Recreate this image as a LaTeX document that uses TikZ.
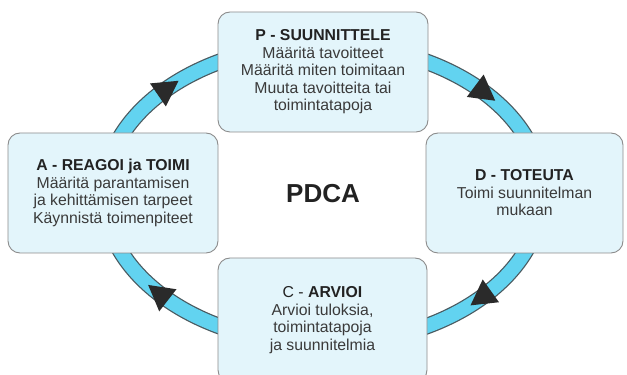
\documentclass[tikz,border=0pt]{standalone}
\usepackage{fontspec}
\setmainfont{Liberation Sans}
\usepackage{tikz}
\usepackage{color}
\usetikzlibrary{decorations.markings}

\definecolor{boxfill}{HTML}{E3F5FB}
\definecolor{boxline}{HTML}{8C8C8C}
\definecolor{ringblue}{HTML}{62D3F0}
\definecolor{ringline}{HTML}{4A5A60}
\definecolor{txt}{HTML}{3A3A3A}
\definecolor{ttl}{HTML}{222222}
\definecolor{tipfill}{HTML}{2A2A2A}

\newcommand{\ringtip}{\fill[tipfill] (13,0) -- (-12,14) -- (-12,-14) -- cycle;}

\begin{document}
\begin{tikzpicture}[x=1pt,y=1pt,
	phase/.style={draw=boxline,fill=boxfill,line width=0.9pt,rounded corners=12pt,
		align=center,inner sep=0pt,text=txt,font=\fontsize{15.8}{17.5}\selectfont},
	ringtips/.style={decorate,decoration={markings,
		mark=at position 0.107 with {\ringtip},
		mark=at position 0.40 with {\ringtip},
		mark=at position 0.61 with {\ringtip},
		mark=at position 0.897 with {\ringtip}}}]

	\useasboundingbox (0,0) rectangle (627,375);
	\clip (0,0) rectangle (627,375);

	% centre label
	\node[font=\fontsize{26}{30}\selectfont\bfseries,text=ttl] (pdca) at (323,181) {PDCA};

	% the ring (clockwise)
	\draw[ringline,line width=16.5pt] (pdca.center) ellipse [x radius=219,y radius=150];
	\draw[ringblue,line width=14pt] (pdca.center) ellipse [x radius=219,y radius=150];
	\path[ringtips] (pdca.center) ++(219,0) arc [start angle=0,end angle=-360,x radius=219,y radius=150];

	% phases
	\node[phase,minimum width=210pt,minimum height=120pt] (P) at (323,303)
		{\textcolor{ttl}{\textbf{P - SUUNNITTELE}}\\M\"a\"arit\"a tavoitteet\\M\"a\"arit\"a miten toimitaan\\Muuta tavoitteita tai\\toimintatapoja};
	\node[phase,minimum width=197pt,minimum height=120pt] (D) at (524.5,182)
		{\textcolor{ttl}{\textbf{D - TOTEUTA}}\\Toimi suunnitelman\\mukaan};
	\node[phase,minimum width=209pt,minimum height=124pt] (C) at (322.5,55)
		{\textcolor{ttl}{C - \textbf{ARVIOI}}\\Arvioi tuloksia,\\toimintatapoja\\ja suunnitelmia};
	\node[phase,minimum width=210pt,minimum height=120pt] (A) at (113,182)
		{\textcolor{ttl}{\textbf{A - REAGOI ja TOIMI}}\\M\"a\"arit\"a parantamisen\\ja kehitt\"amisen tarpeet\\K\"aynnist\"a toimenpiteet};
\end{tikzpicture}
\end{document}
